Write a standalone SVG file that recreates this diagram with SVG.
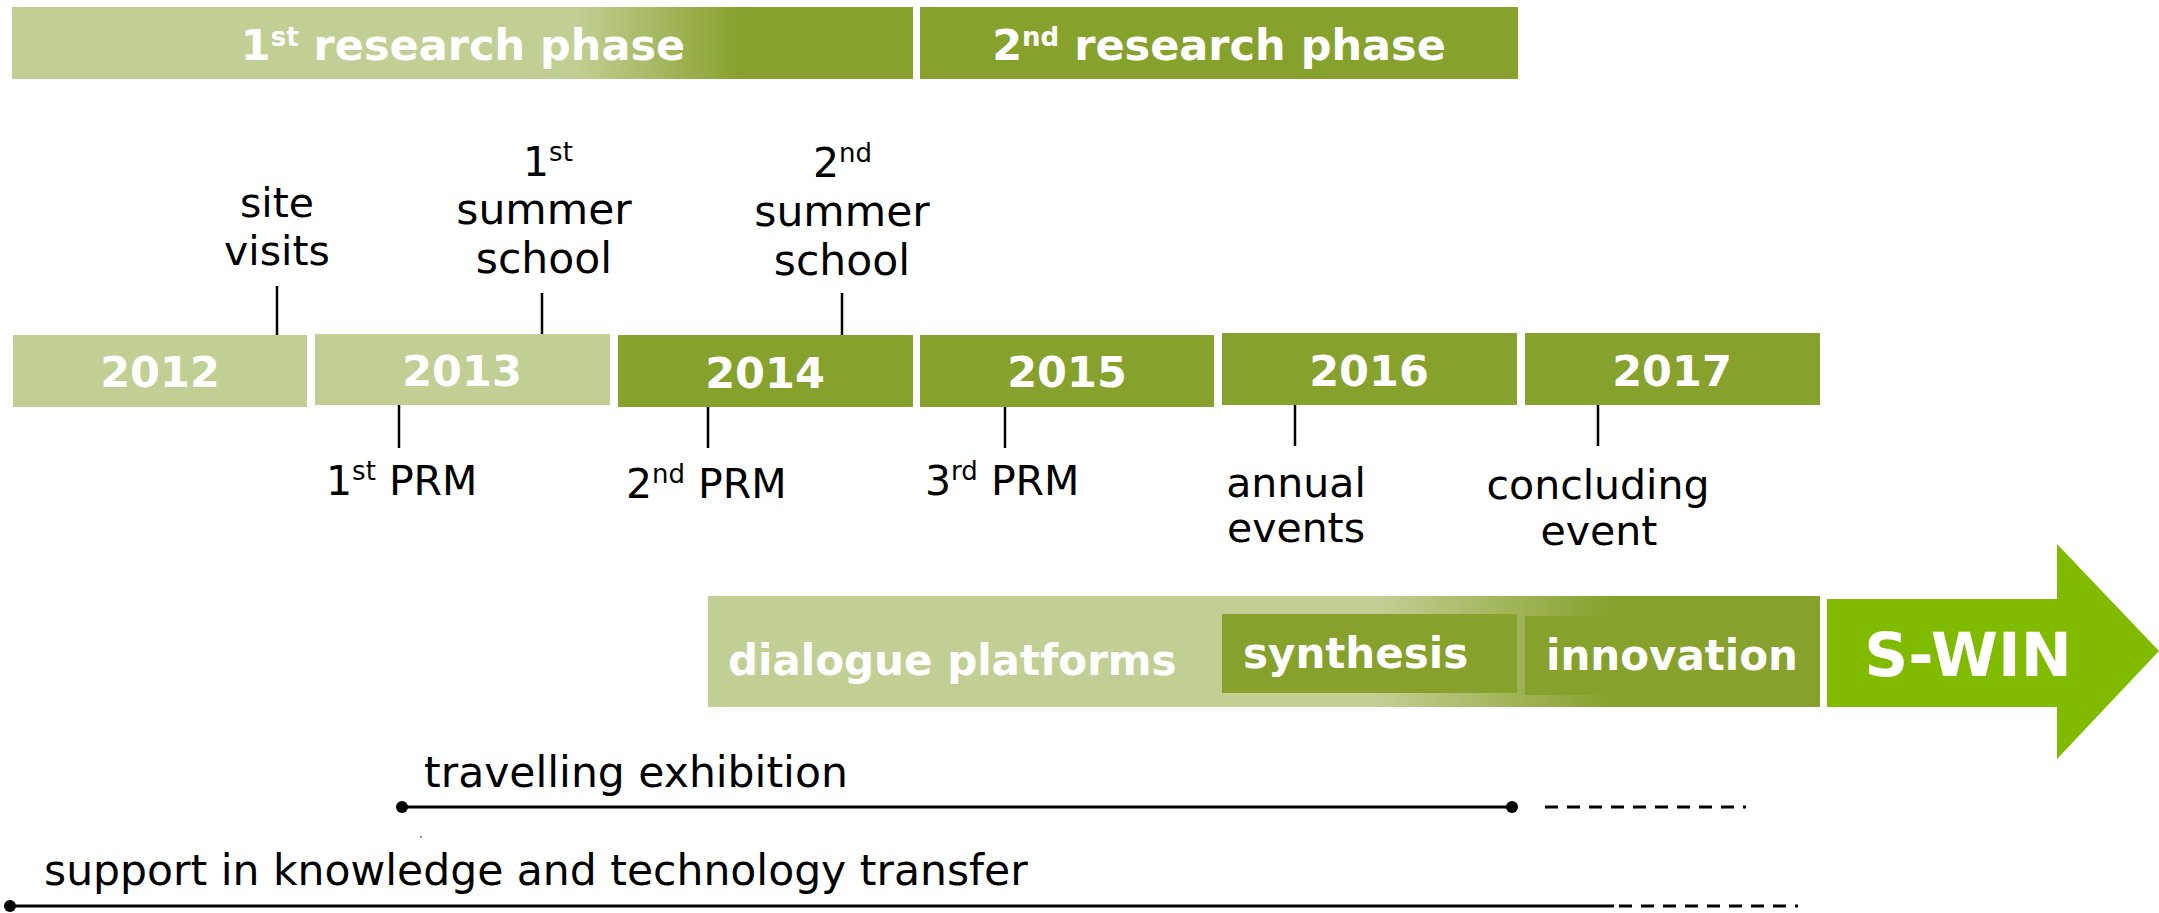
<svg xmlns="http://www.w3.org/2000/svg" width="2159" height="913" viewBox="0 0 2159 913">
<style>
.light{fill:#c2cf94}
.dark{fill:#86a12c}
.wb{font-family:"DejaVu Sans","Liberation Sans",sans-serif;font-weight:bold;fill:#ffffff}
.lbl{font-family:"DejaVu Sans","Liberation Sans",sans-serif;font-size:41px;fill:#000000}
.big{font-size:42.5px}
.tick{stroke:#000000;stroke-width:2.5;fill:none}
.line{stroke:#000000;stroke-width:3;fill:none}
.dash{stroke:#000000;stroke-width:3;fill:none;stroke-dasharray:13 9}
</style>
<defs>
<linearGradient id="g1" gradientUnits="userSpaceOnUse" x1="12" y1="0" x2="913" y2="0">
<stop offset="0" stop-color="#c2cf94"/>
<stop offset="0.625" stop-color="#c2cf94"/>
<stop offset="0.81" stop-color="#86a12c"/>
<stop offset="1" stop-color="#86a12c"/>
</linearGradient>
<linearGradient id="g2" gradientUnits="userSpaceOnUse" x1="708" y1="0" x2="1820" y2="0">
<stop offset="0" stop-color="#c2cf94"/>
<stop offset="0.60" stop-color="#c2cf94"/>
<stop offset="0.815" stop-color="#86a12c"/>
<stop offset="1" stop-color="#86a12c"/>
</linearGradient>
</defs>

<g id="phase1">
<rect x="12" y="7" width="901" height="72" fill="url(#g1)"/>
<text class="wb" x="463" y="60" font-size="43" text-anchor="middle">1<tspan font-size="26" dy="-14">st</tspan><tspan dy="14"> research phase</tspan></text>
</g>
<g id="phase2">
<rect class="dark" x="920" y="7" width="598" height="72"/>
<text class="wb" x="1219" y="60" font-size="43" text-anchor="middle">2<tspan font-size="26" dy="-14">nd</tspan><tspan dy="14"> research phase</tspan></text>
</g>

<g id="y2012">
<rect class="light" x="13" y="335" width="294" height="72"/>
<text class="wb" x="160" y="387" font-size="43" text-anchor="middle">2012</text>
</g>
<g id="y2013">
<rect class="light" x="315" y="334" width="295" height="71"/>
<text class="wb" x="462" y="386" font-size="43" text-anchor="middle">2013</text>
</g>
<g id="y2014">
<rect class="dark" x="618" y="335" width="295" height="72"/>
<text class="wb" x="765" y="388" font-size="43" text-anchor="middle">2014</text>
</g>
<g id="y2015">
<rect class="dark" x="920" y="335" width="294" height="72"/>
<text class="wb" x="1067" y="387" font-size="43" text-anchor="middle">2015</text>
</g>
<g id="y2016">
<rect class="dark" x="1222" y="333" width="295" height="72"/>
<text class="wb" x="1369" y="386" font-size="43" text-anchor="middle">2016</text>
</g>
<g id="y2017">
<rect class="dark" x="1525" y="333" width="295" height="72"/>
<text class="wb" x="1672" y="386" font-size="43" text-anchor="middle">2017</text>
</g>

<g id="connectors">
<line class="tick" x1="277" y1="286" x2="277" y2="335"/>
<line class="tick" x1="542" y1="293" x2="542" y2="334"/>
<line class="tick" x1="842" y1="293" x2="842" y2="335"/>
<line class="tick" x1="399" y1="405" x2="399" y2="448"/>
<line class="tick" x1="708" y1="407" x2="708" y2="448"/>
<line class="tick" x1="1005" y1="407" x2="1005" y2="448"/>
<line class="tick" x1="1295" y1="405" x2="1295" y2="446"/>
<line class="tick" x1="1598" y1="405" x2="1598" y2="446"/>
</g>

<g id="site-visits">
<text class="lbl" x="277" y="217" text-anchor="middle">site</text>
<text class="lbl" x="277" y="265" text-anchor="middle">visits</text>
</g>
<g id="summer-school-1">
<text class="lbl" x="523" y="176">1<tspan font-size="26" dy="-15">st</tspan></text>
<text class="lbl big" x="544" y="224" text-anchor="middle">summer</text>
<text class="lbl big" x="544" y="273" text-anchor="middle">school</text>
</g>
<g id="summer-school-2">
<text class="lbl" x="813" y="177">2<tspan font-size="26" dy="-15">nd</tspan></text>
<text class="lbl big" x="842" y="226" text-anchor="middle">summer</text>
<text class="lbl big" x="842" y="275" text-anchor="middle">school</text>
</g>
<g id="prm1">
<text class="lbl" x="326" y="495">1<tspan font-size="26" dy="-15">st</tspan><tspan dy="15"> PRM</tspan></text>
</g>
<g id="prm2">
<text class="lbl" x="626" y="498">2<tspan font-size="26" dy="-15">nd</tspan><tspan dy="15"> PRM</tspan></text>
</g>
<g id="prm3">
<text class="lbl" x="925" y="495">3<tspan font-size="26" dy="-15">rd</tspan><tspan dy="15"> PRM</tspan></text>
</g>
<g id="annual-events">
<text class="lbl" x="1296" y="497" text-anchor="middle">annual</text>
<text class="lbl" x="1296" y="542" text-anchor="middle">events</text>
</g>
<g id="concluding-event">
<text class="lbl" x="1598" y="499" text-anchor="middle">concluding</text>
<text class="lbl" x="1599" y="545" text-anchor="middle">event</text>
</g>

<g id="dialogue-platforms">
<rect x="708" y="596" width="1112" height="111" fill="url(#g2)"/>
<text class="wb" x="728" y="675" font-size="42">dialogue platforms</text>
</g>
<g id="synthesis">
<rect class="dark" x="1222" y="614" width="295" height="79"/>
<text class="wb" x="1243" y="668" font-size="42">synthesis</text>
</g>
<g id="innovation">
<rect class="dark" x="1525" y="616" width="295" height="79"/>
<text class="wb" x="1546" y="670" font-size="42">innovation</text>
</g>
<g id="s-win">
<polygon points="1827,599 2057,599 2057,544 2159,651 2057,759 2057,707 1827,707" fill="#80bb00"/>
<text class="wb" x="1968" y="676" font-size="61" text-anchor="middle">S-WIN</text>
</g>

<g id="travelling-exhibition">
<text class="lbl big" x="424" y="787">travelling exhibition</text>
<line class="line" x1="402" y1="807" x2="1512" y2="807"/>
<circle cx="402" cy="807" r="6"/>
<circle cx="1512" cy="807" r="6"/>
<line class="dash" x1="1545" y1="807" x2="1746" y2="807"/>
<rect x="420" y="836" width="2" height="2" fill="#888888"/>
</g>
<g id="knowledge-transfer">
<text class="lbl big" x="44" y="885">support in knowledge and technology transfer</text>
<line class="line" x1="10" y1="906" x2="1614" y2="906"/>
<circle cx="10" cy="906" r="6"/>
<line class="dash" x1="1619" y1="906" x2="1798" y2="906"/>
</g>
</svg>
